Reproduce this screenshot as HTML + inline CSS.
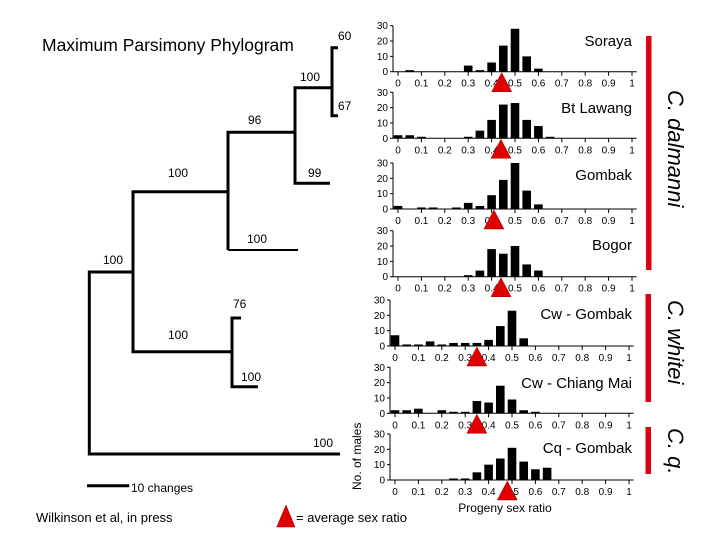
<!DOCTYPE html>
<html><head><meta charset="utf-8"><style>
html,body{margin:0;padding:0;background:#fff;}
svg{display:block;font-family:"Liberation Sans",Arial,sans-serif;}
</style></head><body>
<svg id="fig" width="720" height="540" viewBox="0 0 720 540" xmlns="http://www.w3.org/2000/svg">
<g stroke="#000" stroke-width="3" fill="none">
  <polyline points="338,47.7 332,47.7 332,115.7 338,115.7"/>
  <polyline points="332,87.7 295,87.7 295,183.3 330,183.3"/>
  <polyline points="295,132.3 228,132.3 228,250"/>
  <line x1="228" y1="250" x2="298" y2="250" stroke-width="2"/>
  <polyline points="228,191.7 133,191.7 133,351.7 232,351.7"/>
  <polyline points="241,318 232,318 232,386.7 258,386.7"/>
  <polyline points="133,272 89.3,272 89.3,454 340,454"/>
  <line x1="87" y1="485.7" x2="129.3" y2="485.7"/>
</g>
<g font-size="12" fill="#000">
  <text x="338" y="40">60</text>
  <text x="300" y="81">100</text>
  <text x="338" y="110">67</text>
  <text x="248" y="124">96</text>
  <text x="168" y="177">100</text>
  <text x="308" y="177">99</text>
  <text x="247" y="243">100</text>
  <text x="103" y="264">100</text>
  <text x="233" y="308">76</text>
  <text x="168" y="339">100</text>
  <text x="241" y="381">100</text>
  <text x="313" y="447">100</text>
  <text x="131" y="492">10 changes</text>
</g>
<text x="42" y="51" font-size="17.5">Maximum Parsimony Phylogram</text>
<text x="36" y="522" font-size="13">Wilkinson et al, in press</text>
<polygon points="286,505 276.7,527 295,527" fill="#e00000" stroke="#900" stroke-width="0.5"/>
<text x="296" y="522" font-size="13">= average sex ratio</text>
<text transform="translate(361,490) rotate(-90)" font-size="12">No. of males</text>
<text x="505" y="512" font-size="12" text-anchor="middle">Progeny sex ratio</text>
<rect x="646" y="36" width="5.5" height="234" fill="#e00010"/>
<rect x="645.5" y="294" width="5.5" height="108" fill="#e00010"/>
<rect x="645.5" y="427" width="5.5" height="47" fill="#e00010"/>
<text transform="translate(668,90) rotate(90)" font-size="22" font-style="italic">C. dalmanni</text>
<text transform="translate(668,300) rotate(90)" font-size="22" font-style="italic">C. whitei</text>
<text transform="translate(668,428) rotate(90)" font-size="22" font-style="italic">C. q.</text>
<g id="panels"></g>
</svg>
<script>
const binCenters = [0,0.05,0.1,0.15,0.2,0.25,0.3,0.35,0.4,0.45,0.5,0.55,0.6,0.65];
const populations = ["Soraya","Bt Lawang","Gombak","Bogor","Cw - Gombak","Cw - Chiang Mai","Cq - Gombak"];
const sorayaCounts    = [0,1,0,0,0,0,4,1,6,17,28,10,2,0];
const btLawangCounts  = [2,2,1,0,0,0,1,5,12,22,23,12,8,1];
const gombakCounts    = [2,0,1,1,0,1,4,2,9,19,30,12,3,0];
const bogorCounts     = [0,0,0,0,0,0,1,4,18,15,20,8,4,0];
const cwGombakCounts  = [7,1,1,3,1,2,2,2,4,13,23,5,0,0];
const cwChiangMaiCounts = [2,2,3,0,2,1,1,8,7,18,9,2,1,0];
const cqGombakCounts  = [0,0,0,0,0,1,1,5,10,14,21,12,7,8];
const meanSexRatios = [0.443,0.44,0.41,0.44,0.35,0.35,0.48];
const yTickLabels = [0,10,20,30];
const xTickLabels = [0,0.1,0.2,0.3,0.4,0.5,0.6,0.7,0.8,0.9,1];
const allCounts = [sorayaCounts,btLawangCounts,gombakCounts,bogorCounts,cwGombakCounts,cwChiangMaiCounts,cqGombakCounts];

// layout (not data)
const panelZero = [71.7,138.3,209,276.7,346,413.3,480];
const panelX0 = [398,398,398,398,395,395,395];
const nameY = [46,113,180,250,319,388,453];
const NS = "http://www.w3.org/2000/svg";
const root = document.getElementById("panels");
function mk(tag, attrs, parent){const e=document.createElementNS(NS,tag);for(const k in attrs)e.setAttribute(k,attrs[k]);parent.appendChild(e);return e;}

populations.forEach((pop,i)=>{
  const x0 = panelX0[i], zero = panelZero[i];
  const xs = v => x0 + v*234;
  const ys = c => zero - c*46/30;
  const g = mk("g",{},root);
  
  
  const ax = x0-5;
  const yl = mk("line",{x1:ax,y1:ys(30),x2:ax,y2:zero,stroke:"#000","stroke-width":1},g);
  
  
  yTickLabels.forEach(t=>{
    const tk = mk("line",{x1:ax-3,y1:ys(t),x2:ax,y2:ys(t),stroke:"#000","stroke-width":1},g);
    
    
    const tl = mk("text",{x:ax-5,y:ys(t)+3.5,"font-size":10,"text-anchor":"end"},g);
    tl.textContent = t;
    
    
  });
  const xl = mk("line",{x1:ax,y1:zero,x2:xs(1.02),y2:zero,stroke:"#000","stroke-width":1},g);
  
  
  xTickLabels.forEach(t=>{
    const tk = mk("line",{x1:xs(t),y1:zero,x2:xs(t),y2:zero+4,stroke:"#000","stroke-width":1},g);
    
    
    const tl = mk("text",{x:xs(t),y:zero+15,"font-size":10,"text-anchor":"middle"},g);
    tl.textContent = t;
    
    
  });
  allCounts[i].forEach((c,j)=>{
    if(c<=0) return;
    const b = mk("rect",{x:xs(binCenters[j])-4.3,y:ys(c),width:8.6,height:zero-ys(c),fill:"#000"},g);
    
    
  });
  const nm = mk("text",{x:632,y:nameY[i],"font-size":15,"text-anchor":"end"},g);
  nm.textContent = pop;
  
  
  const mx = xs(meanSexRatios[i]);
  const tri = mk("polygon",{points:`${mx},${zero+1} ${mx-10},${zero+20} ${mx+10},${zero+20}`,fill:"#e00000",stroke:"#900","stroke-width":0.5},g);
  
  
});
</script>
</body></html>
